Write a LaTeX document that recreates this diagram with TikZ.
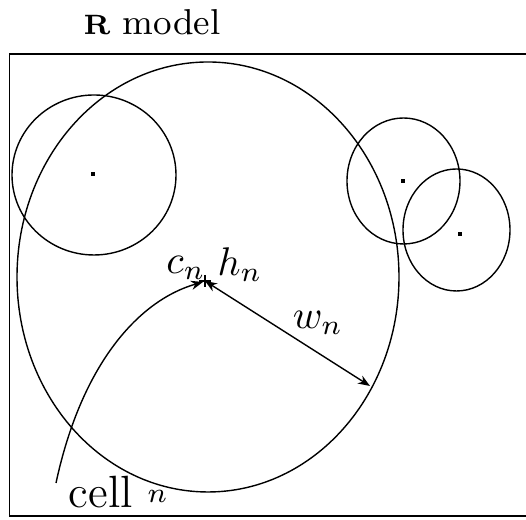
\documentclass[tikz,border=0pt]{standalone}
\usetikzlibrary{arrows.meta}
\begin{document}
\begin{tikzpicture}[x=0.25pt,y=-0.25pt,line width=0.35pt,
  tip/.style={-{Stealth[length=3pt,width=2.3pt]}},
  dot/.style={fill=black,inner sep=0pt,minimum size=0.8pt,shape=rectangle},
  lbl/.style={inner sep=0pt}]
\useasboundingbox (0,0) rectangle (526,520);
\draw (9.5,54) -- (540,54) (9.5,54) -- (9.5,516) -- (540,516);
\node[lbl] (title) at (152,22) {\small{\bfseries\scriptsize R} model};
% big cell
\draw (208,277) ellipse [x radius=191, y radius=215];
\coordinate (c) at (205,281);
\coordinate (e) at (370,386);
% neighbour cells
\draw (94,175) ellipse [x radius=82, y radius=80];
\draw (403.5,181) ellipse [x radius=56.5, y radius=63];
\draw (456.5,230) ellipse [x radius=53.5, y radius=61];
\node[dot] (d1) at (93,174) {};
\node[dot] (d2) at (403,181) {};
\node[dot] (d3) at (460,234) {};
% center mark
\draw[line width=0.7pt] (199,281) -- (211,281) (205,275) -- (205,287);
% arrows
\draw[{Stealth[length=3pt,width=2.3pt]}-{Stealth[length=3pt,width=2.3pt]}] (c) -- (e);
\coordinate (s) at (56,483);
\draw[tip] (s) .. controls (82,362) and (140,300) .. (203,282);
\node[lbl] (cn) at (186,268) {$c_n$};
\node[lbl] (hn) at (240,265) {$h_n$};
\node[lbl] (wn) at (318,323) {$w_n$};
\node[lbl,anchor=west] (cell) at (68,492) {\fontsize{11.3}{13}\selectfont cell \raisebox{1.2pt}{\normalsize$\scriptstyle n$}};
\end{tikzpicture}
\end{document}
